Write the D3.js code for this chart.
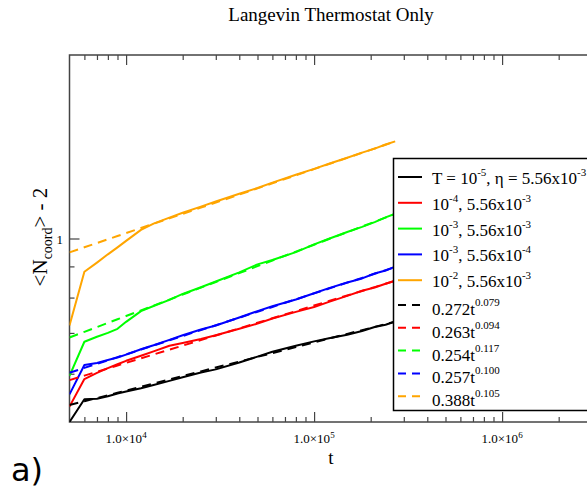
<!DOCTYPE html>
<html>
<head>
<meta charset="utf-8">
<script src="https://cdn.jsdelivr.net/npm/d3@7/dist/d3.min.js"></script>
<style>
  html, body { margin: 0; padding: 0; background: #fff; }
  svg { display: block; }
  text { font-family: "Liberation Serif", "Times New Roman", serif; fill: #000; }
</style>
</head>
<body>
<script>
// Time samples (MD steps) shared by every simulated series
const times = [5000, 6000, 7000, 8000, 9000, 10000, 12000, 14000, 17000, 20000, 25000,
  30000, 40000, 50000, 60000, 80000, 100000, 120000, 150000, 180000, 210000, 240000, 270000];

// <N_coord> - 2 for each temperature / friction pair
const blackT5 = [0.500, 0.545, 0.546, 0.551, 0.557, 0.561, 0.568, 0.575, 0.584, 0.592, 0.603,
  0.610, 0.626, 0.640, 0.652, 0.667, 0.678, 0.686, 0.695, 0.705, 0.716, 0.722, 0.731];
const redT4 = [0.530, 0.588, 0.602, 0.613, 0.622, 0.630, 0.642, 0.653, 0.667, 0.674, 0.684,
  0.694, 0.711, 0.725, 0.739, 0.758, 0.772, 0.787, 0.805, 0.821, 0.831, 0.843, 0.853];
const greenT3 = [0.595, 0.677, 0.690, 0.700, 0.711, 0.730, 0.760, 0.775, 0.793, 0.811, 0.832,
  0.850, 0.880, 0.907, 0.922, 0.950, 0.978, 0.999, 1.025, 1.045, 1.064, 1.083, 1.098];
const blueT3 = [0.555, 0.620, 0.625, 0.632, 0.638, 0.645, 0.658, 0.668, 0.682, 0.694, 0.709,
  0.720, 0.742, 0.760, 0.774, 0.794, 0.813, 0.829, 0.847, 0.860, 0.876, 0.886, 0.899];
const orangeT2 = [0.720, 0.882, 0.913, 0.942, 0.967, 0.991, 1.033, 1.058, 1.082, 1.102, 1.128,
  1.150, 1.184, 1.210, 1.235, 1.272, 1.301, 1.326, 1.357, 1.383, 1.404, 1.426, 1.443];

// Power-law fits a * t^b
const fitA = [0.272, 0.263, 0.254, 0.257, 0.388];
const fitB = ["0.079", "0.094", "0.117", "0.100", "0.105"];

const seriesColors = ["#000000", "#ff0000", "#00ff00", "#0000ff", "#ffa500"];
const seriesValues = [blackT5, redT4, greenT3, blueT3, orangeT2];
const legendRuns = [
  [["T = 10", ""], ["-5", "sup"], [", \u03b7 = 5.56x10", ""], ["-3", "sup"]],
  [["10", ""], ["-4", "sup"], [", 5.56x10", ""], ["-3", "sup"]],
  [["10", ""], ["-3", "sup"], [", 5.56x10", ""], ["-3", "sup"]],
  [["10", ""], ["-3", "sup"], [", 5.56x10", ""], ["-4", "sup"]],
  [["10", ""], ["-2", "sup"], [", 5.56x10", ""], ["-3", "sup"]]
];

const xMajor = [1e4, 1e5, 1e6];
const xMajorExp = ["4", "5", "6"];
const yMajor = [1];
const yMinor = [0.6, 0.7, 0.8, 0.9];

const W = 587, H = 493;
const svg = d3.select("body").append("svg").attr("width", W).attr("height", H);
svg.append("rect").attr("width", W).attr("height", H).attr("fill", "#fff");

const plot = { left: 69.5, right: 633.5, top: 55, bottom: 422 };
const x = d3.scaleLog().domain([5000, 5e6]).range([plot.left, plot.right]);
const y = d3.scaleLog().domain([0.5, 2]).range([plot.bottom, plot.top]);

// Minor tick positions on the time axis: 2..9 of every decade in range
const xMinor = [];
for (let e = 3; e <= 6; e++) for (let m = 2; m <= 9; m++) {
  const v = m * Math.pow(10, e);
  if (v > 5000 && v < 5e6) xMinor.push(v);
}

svg.append("defs").append("clipPath").attr("id", "clip")
  .append("rect").attr("x", plot.left).attr("y", plot.top)
  .attr("width", plot.right - plot.left).attr("height", plot.bottom - plot.top);

const axisColor = "#444";
function styleAxis(g) {
  g.select(".domain").remove();
  g.selectAll("line").attr("stroke", axisColor).attr("stroke-width", 1.2);
  g.selectAll("text").remove();
}

// Inward ticks on all four sides
svg.append("g").attr("transform", `translate(0,${plot.bottom})`)
  .call(d3.axisBottom(x).tickValues(xMajor).tickSize(-10)).call(styleAxis);
svg.append("g").attr("transform", `translate(0,${plot.bottom})`)
  .call(d3.axisBottom(x).tickValues(xMinor).tickSize(-5)).call(styleAxis);
svg.append("g").attr("transform", `translate(0,${plot.top})`)
  .call(d3.axisTop(x).tickValues(xMajor).tickSize(-10)).call(styleAxis);
svg.append("g").attr("transform", `translate(0,${plot.top})`)
  .call(d3.axisTop(x).tickValues(xMinor).tickSize(-5)).call(styleAxis);
svg.append("g").attr("transform", `translate(${plot.left},0)`)
  .call(d3.axisLeft(y).tickValues(yMajor).tickSize(-10)).call(styleAxis);
svg.append("g").attr("transform", `translate(${plot.left},0)`)
  .call(d3.axisLeft(y).tickValues(yMinor).tickSize(-5)).call(styleAxis);
svg.append("g").attr("transform", `translate(${plot.right},0)`)
  .call(d3.axisRight(y).tickValues(yMajor).tickSize(-10)).call(styleAxis);
svg.append("g").attr("transform", `translate(${plot.right},0)`)
  .call(d3.axisRight(y).tickValues(yMinor).tickSize(-5)).call(styleAxis);

// Frame
svg.append("rect").attr("x", plot.left).attr("y", plot.top)
  .attr("width", plot.right - plot.left).attr("height", plot.bottom - plot.top)
  .attr("fill", "none").attr("stroke", axisColor).attr("stroke-width", 1.5);

// Curves
const line = d3.line().x(d => x(d[0])).y(d => y(d[1]));
const curves = svg.append("g").attr("clip-path", "url(#clip)");
seriesValues.forEach((vals, i) => {
  curves.append("path")
    .attr("d", line(times.map((t, k) => [t, vals[k]])))
    .attr("fill", "none").attr("stroke", seriesColors[i]).attr("stroke-width", 2)
    .attr("stroke-linejoin", "round");
});
fitA.forEach((a, i) => {
  const b = +fitB[i];
  curves.append("path")
    .attr("d", line(times.map(t => [t, a * Math.pow(t, b)])))
    .attr("fill", "none").attr("stroke", seriesColors[i]).attr("stroke-width", 2)
    .attr("stroke-dasharray", "9,6");
});

// Tick labels
xMajor.forEach((v, i) => {
  const tx = svg.append("text").attr("x", x(v)).attr("y", 443)
    .attr("text-anchor", "middle").style("font-size", "13px");
  tx.append("tspan").text("1.0\u00d710");
  tx.append("tspan").text(xMajorExp[i]).attr("dy", -5).style("font-size", "9px");
});
yMajor.forEach(v => {
  svg.append("text").attr("x", 63).attr("y", y(v) + 5)
    .attr("text-anchor", "end").style("font-size", "13px").text(d3.format("d")(v));
});

// Axis titles
svg.append("text").attr("x", 331).attr("y", 464).attr("text-anchor", "middle")
  .style("font-size", "19px").text("t");
const yl = svg.append("text").attr("transform", "translate(47,237) rotate(-90)")
  .attr("text-anchor", "middle").style("font-size", "21px");
yl.append("tspan").text("<N");
yl.append("tspan").text("coord").attr("dy", 5).style("font-size", "14px");
yl.append("tspan").text("> - 2").attr("dy", -5);

// Title
svg.append("text").attr("x", 331).attr("y", 21).attr("text-anchor", "middle")
  .style("font-size", "19px").text("Langevin Thermostat Only");

// Panel tag
svg.append("text").attr("x", 11).attr("y", 481)
  .style("font-family", "'DejaVu Sans', sans-serif").style("font-size", "32px").text("a)");

// Legend
const lg = svg.append("g");
lg.append("rect").attr("x", 393.5).attr("y", 158.5).attr("width", 260).attr("height", 252)
  .attr("fill", "#fff").attr("stroke", "#000").attr("stroke-width", 1.5);
const rowY = [];
for (let i = 0; i < 5; i++) rowY.push(177 + i * 25.8);
for (let i = 0; i < 5; i++) rowY.push(305 + i * 22.8);

legendRuns.forEach((runs, i) => {
  const yy = rowY[i];
  lg.append("line").attr("x1", 398).attr("x2", 422).attr("y1", yy).attr("y2", yy)
    .attr("stroke", seriesColors[i]).attr("stroke-width", 2);
  const t = lg.append("text").attr("x", 432).attr("y", yy + 7).style("font-size", "17px");
  let up = false;
  runs.forEach(([s, kind]) => {
    const sp = t.append("tspan").text(s);
    if (kind === "sup" && !up) { sp.attr("dy", -8).style("font-size", "11px"); up = true; }
    else if (kind !== "sup" && up) { sp.attr("dy", 8); up = false; }
    else if (kind === "sup") sp.style("font-size", "11px");
  });
});
fitA.forEach((a, i) => {
  const yy = rowY[5 + i];
  lg.append("line").attr("x1", 398).attr("x2", 422).attr("y1", yy).attr("y2", yy)
    .attr("stroke", seriesColors[i]).attr("stroke-width", 2).attr("stroke-dasharray", "8,6");
  const t = lg.append("text").attr("x", 432).attr("y", yy + 10).style("font-size", "17px");
  t.append("tspan").text(d3.format(".3f")(a) + "t");
  t.append("tspan").text(fitB[i]).attr("dy", -9).style("font-size", "11px");
});
</script>
</body>
</html>
